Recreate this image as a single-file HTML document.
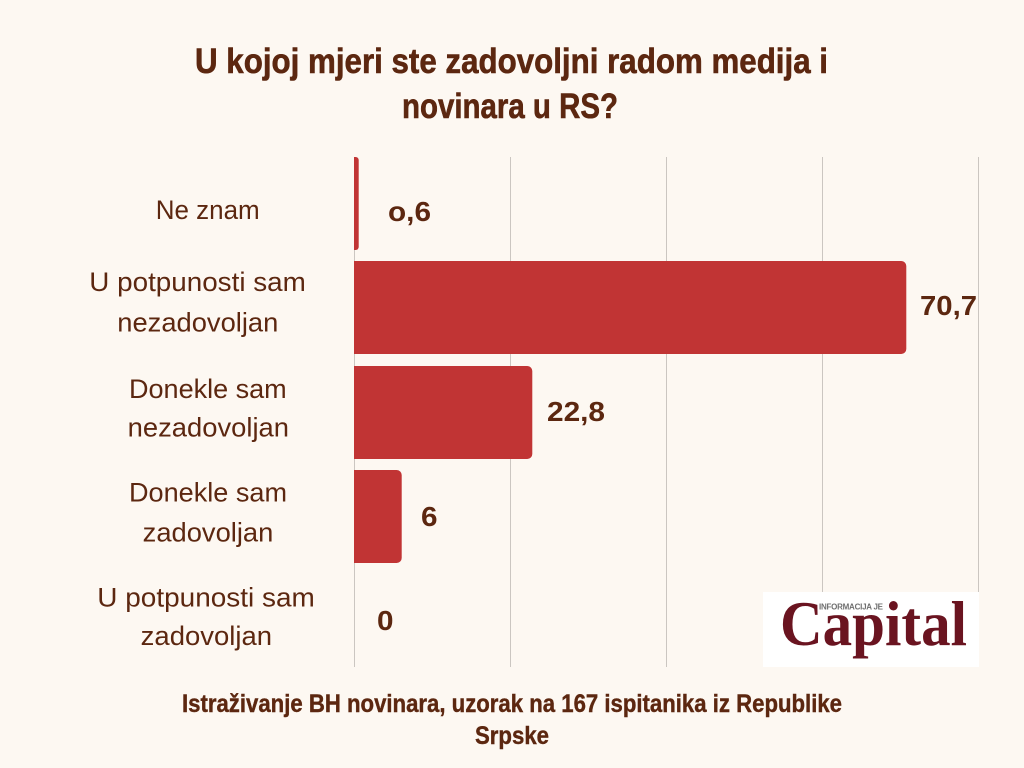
<!DOCTYPE html>
<html>
<head>
<meta charset="utf-8">
<style>
  html, body { margin: 0; padding: 0; background: #fdf8f2; }
  body { width: 1024px; height: 768px; overflow: hidden; }
  svg { display: block; }
  .t { font-family: "Liberation Sans", sans-serif; fill: #5c2710; }
</style>
</head>
<body>
<svg width="1024" height="768" viewBox="0 0 1024 768" xmlns="http://www.w3.org/2000/svg">
  <rect x="0" y="0" width="1024" height="768" fill="#fdf8f2"/>

  <!-- Title -->
  <g stroke="#5c2710" stroke-width="0.6">
  <text class="t" x="195" y="73" font-size="35" font-weight="bold" textLength="633" lengthAdjust="spacingAndGlyphs">U kojoj mjeri ste zadovoljni radom medija i</text>
  <text class="t" x="402" y="118" font-size="35" font-weight="bold" textLength="216" lengthAdjust="spacingAndGlyphs">novinara u RS?</text>
  </g>

  <!-- Gridlines -->
  <g stroke="#cbc6c1" stroke-width="1">
    <line x1="354.5" y1="157" x2="354.5" y2="667"/>
    <line x1="510.5" y1="157" x2="510.5" y2="667"/>
    <line x1="666.5" y1="157" x2="666.5" y2="667"/>
    <line x1="822.5" y1="157" x2="822.5" y2="667"/>
    <line x1="978.5" y1="157" x2="978.5" y2="667"/>
  </g>

  <!-- Bars -->
  <g fill="#c13434">
    <path d="M354 157 H355.7 A3 3 0 0 1 358.7 160 V247 A3 3 0 0 1 355.7 250 H354 Z"/>
    <path d="M354 261 H901.3 A5 5 0 0 1 906.3 266 V349 A5 5 0 0 1 901.3 354 H354 Z"/>
    <path d="M354 366 H527.3 A5 5 0 0 1 532.3 371 V454 A5 5 0 0 1 527.3 459 H354 Z"/>
    <path d="M354 470 H396.7 A5 5 0 0 1 401.7 475 V558 A5 5 0 0 1 396.7 563 H354 Z"/>
  </g>

  <!-- Value labels -->
  <g class="t" font-size="28" font-weight="bold">
    <text x="388" y="221" textLength="43" lengthAdjust="spacingAndGlyphs">o,6</text>
    <text x="920" y="315" textLength="57" lengthAdjust="spacingAndGlyphs">70,7</text>
    <text x="547" y="421" textLength="58" lengthAdjust="spacingAndGlyphs">22,8</text>
    <text x="421" y="526" textLength="16.5" lengthAdjust="spacingAndGlyphs">6</text>
    <text x="377" y="630" textLength="16.5" lengthAdjust="spacingAndGlyphs">0</text>
  </g>

  <!-- Category labels -->
  <g class="t" font-size="27">
    <text x="155.7" y="219" textLength="104" lengthAdjust="spacingAndGlyphs">Ne znam</text>
    <text x="89.3" y="291" textLength="216.5" lengthAdjust="spacingAndGlyphs">U potpunosti sam</text>
    <text x="117.3" y="331.5" textLength="161" lengthAdjust="spacingAndGlyphs">nezadovoljan</text>
    <text x="129" y="398" textLength="157.7" lengthAdjust="spacingAndGlyphs">Donekle sam</text>
    <text x="127.7" y="436.5" textLength="161.3" lengthAdjust="spacingAndGlyphs">nezadovoljan</text>
    <text x="129" y="501.5" textLength="158" lengthAdjust="spacingAndGlyphs">Donekle sam</text>
    <text x="142.7" y="541.5" textLength="130.6" lengthAdjust="spacingAndGlyphs">zadovoljan</text>
    <text x="97.3" y="606.5" textLength="217.5" lengthAdjust="spacingAndGlyphs">U potpunosti sam</text>
    <text x="140.7" y="645" textLength="131.3" lengthAdjust="spacingAndGlyphs">zadovoljan</text>
  </g>

  <!-- Logo -->
  <rect x="763" y="592" width="216" height="75" fill="#ffffff"/>
  <text x="780" y="645" font-family="Liberation Serif, serif" font-size="63" font-weight="bold" fill="#6a1420" textLength="187" lengthAdjust="spacingAndGlyphs">Capital</text>
  <text x="819" y="609.5" font-family="Liberation Sans, sans-serif" font-size="8" font-weight="bold" fill="#6f6f6f" textLength="64" lengthAdjust="spacing">INFORMACIJA JE</text>

  <!-- Footer -->
  <g stroke="#5c2710" stroke-width="0.4">
  <text class="t" x="182" y="712" font-size="25" font-weight="bold" textLength="660" lengthAdjust="spacingAndGlyphs">Istraživanje BH novinara, uzorak na 167 ispitanika iz Republike</text>
  <text class="t" x="475" y="744" font-size="25" font-weight="bold" textLength="74" lengthAdjust="spacingAndGlyphs">Srpske</text>
  </g>
</svg>
</body>
</html>
